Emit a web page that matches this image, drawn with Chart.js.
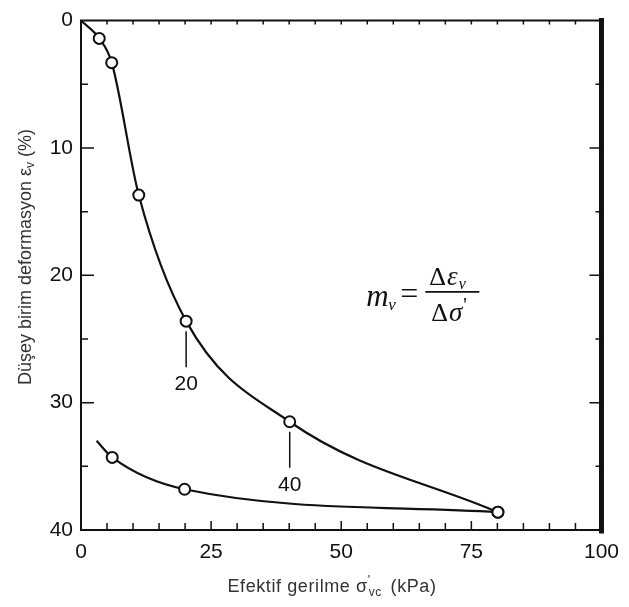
<!DOCTYPE html>
<html><head><meta charset="utf-8">
<script src="https://cdn.jsdelivr.net/npm/chart.js@4.4.1/dist/chart.umd.min.js"></script>
<style>html,body{margin:0;padding:0;background:#fff;} #wrap{width:629px;height:607px;position:relative;}</style>
</head><body><div id="wrap"><canvas id="c" width="629" height="607"></canvas></div>
<script>
// ---- data ----
const loadingStress = [0, 3.5, 5.9, 11.1, 20.2, 40.1, 80.1];
const loadingStrain = [0, 1.4, 3.3, 13.7, 23.6, 31.5, 38.6];
const loadingMarked = [0, 1, 1, 1, 1, 1, 1];
const unloadingStress = [3.0, 6.0, 19.9, 80.1];
const unloadingStrain = [33.0, 34.3, 36.8, 38.6];
const unloadingMarked = [0, 1, 1, 1];
const xTickValues = [0, 25, 50, 75, 100];
const yTickValues = [0, 10, 20, 30, 40];
const stressLabels = ['20', '40'];
const stressLabelIndex = [4, 5];

const INK = '#111';
const SANS = '"Liberation Sans", Arial, sans-serif';
const SERIF = '"Liberation Serif", "Times New Roman", serif';

function pts(xs, ys) { return xs.map((x, i) => ({x: x, y: ys[i]})); }

const decor = {
  id: 'decor',
  afterDraw(chart) {
    const ctx = chart.ctx, a = chart.chartArea;
    const xs = chart.scales.x, ys = chart.scales.y;
    ctx.save();
    ctx.strokeStyle = INK; ctx.fillStyle = INK;
    // frame
    ctx.lineCap = 'square';
    ctx.lineWidth = 2;
    ctx.beginPath();
    ctx.moveTo(a.left, a.bottom); ctx.lineTo(a.left, a.top); ctx.lineTo(a.right, a.top);
    ctx.moveTo(a.left, a.bottom); ctx.lineTo(a.right, a.bottom);
    ctx.stroke();
    ctx.lineWidth = 5;
    ctx.beginPath(); ctx.moveTo(a.right, a.top); ctx.lineTo(a.right, a.bottom + 1); ctx.stroke();
    // ticks
    ctx.lineWidth = 1.5; ctx.lineCap = 'butt';
    ctx.beginPath();
    for (let v = 5; v < 100; v += 5) {
      const px = xs.getPixelForValue(v);
      const major = v % 25 === 0;
      ctx.moveTo(px, a.bottom); ctx.lineTo(px, a.bottom - (major ? 9 : 7));
      ctx.moveTo(px, a.top); ctx.lineTo(px, a.top + 4);
    }
    for (let v = 5; v < 40; v += 5) {
      const py = ys.getPixelForValue(v);
      const major = v % 10 === 0;
      ctx.moveTo(a.left, py); ctx.lineTo(a.left + (major ? 13 : 7), py);
      ctx.moveTo(a.right, py); ctx.lineTo(a.right - (major ? 12 : 6), py);
    }
    ctx.stroke();

    // stress labels under points
    const meta = chart.getDatasetMeta(0);
    ctx.font = '21px ' + SANS; ctx.textAlign = 'center'; ctx.textBaseline = 'middle';
    stressLabelIndex.forEach((idx, k) => {
      const p = meta.data[idx];
      ctx.lineWidth = 1.5;
      ctx.beginPath(); ctx.moveTo(p.x, p.y + 10); ctx.lineTo(p.x, p.y + 46); ctx.stroke();
      ctx.fillText(stressLabels[k], p.x, p.y + 63);
    });

    // formula m_v = Δε_v / Δσ'
    const fx = xs.getPixelForValue(55.2), fy = ys.getPixelForValue(21.3);
    ctx.textAlign = 'left'; ctx.textBaseline = 'alphabetic';
    ctx.font = 'italic 31px ' + SERIF;
    ctx.fillText('m', fx - 2, fy + 14);
    ctx.font = 'italic 17px ' + SERIF;
    ctx.fillText('v', fx + 20, fy + 18);
    ctx.font = '32px ' + SERIF;
    ctx.fillText('=', fx + 32, fy + 12);
    const bx0 = fx + 57, bx1 = fx + 111;
    ctx.lineWidth = 1.6;
    ctx.beginPath(); ctx.moveTo(bx0, fy); ctx.lineTo(bx1, fy); ctx.stroke();
    // numerator
    let nx = bx0 + 4;
    ctx.font = '26px ' + SERIF; ctx.fillText('Δ', nx, fy - 7); nx += ctx.measureText('Δ').width + 1;
    ctx.font = 'italic 27px ' + SERIF; ctx.fillText('ε', nx, fy - 7); nx += ctx.measureText('ε').width;
    ctx.font = 'italic 16px ' + SERIF; ctx.fillText('v', nx + 1, fy - 3);
    // denominator
    let dx = bx0 + 6;
    ctx.font = '26px ' + SERIF; ctx.fillText('Δ', dx, fy + 29); dx += ctx.measureText('Δ').width + 1;
    ctx.font = 'italic 27px ' + SERIF; ctx.fillText('σ', dx, fy + 29); dx += ctx.measureText('σ').width;
    ctx.font = '20px ' + SERIF; ctx.fillText('\'', dx + 1, fy + 20);

    // y axis title
    ctx.fillStyle = '#333';
    const yParts = [['Düşey birim deformasyon ε', 18, 0], ['v', 12, 5], [' (%)', 18, 0]];
    let total = 0;
    yParts.forEach(p => { ctx.font = p[1] + 'px ' + SANS; total += ctx.measureText(p[0]).width; });
    ctx.save();
    ctx.translate(26, 257); ctx.rotate(-Math.PI / 2);
    let tx = -total / 2;
    ctx.textBaseline = 'middle';
    yParts.forEach(p => { ctx.font = p[1] + 'px ' + SANS; ctx.fillText(p[0], tx, p[2]); tx += ctx.measureText(p[0]).width; });
    ctx.restore();

    // x axis title
    ctx.textBaseline = 'alphabetic';
    ctx.letterSpacing = '0.6px';
    ctx.font = '18px ' + SANS;
    const t1 = 'Efektif gerilme σ', t2 = ' (kPa)';
    const w1 = ctx.measureText(t1).width, w2 = ctx.measureText(t2).width;
    ctx.font = '12px ' + SANS; const w3 = ctx.measureText('vc').width;
    const xt = 332 - (w1 + w3 + 4 + w2) / 2, yb = 592;
    ctx.font = '18px ' + SANS; ctx.fillText(t1, xt, yb);
    ctx.font = '13px ' + SANS; ctx.fillText('\'', xt + w1, yb - 8);
    ctx.font = '12px ' + SANS; ctx.fillText('vc', xt + w1 + 1, yb + 4);
    ctx.font = '18px ' + SANS; ctx.fillText(t2, xt + w1 + w3 + 4, yb);
    ctx.restore();
  }
};

new Chart(document.getElementById('c'), {
  type: 'scatter',
  data: {
    datasets: [
      {
        data: pts(loadingStress, loadingStrain),
        showLine: true, cubicInterpolationMode: 'monotone',
        borderColor: INK, borderWidth: 2.2,
        pointRadius: loadingMarked.map(m => m ? 5.5 : 0),
        pointBackgroundColor: '#fff', pointBorderColor: INK, pointBorderWidth: 2
      },
      {
        data: pts(unloadingStress, unloadingStrain),
        showLine: true, cubicInterpolationMode: 'monotone',
        borderColor: INK, borderWidth: 2.2,
        pointRadius: unloadingMarked.map(m => m ? 5.5 : 0),
        pointBackgroundColor: '#fff', pointBorderColor: INK, pointBorderWidth: 2
      }
    ]
  },
  options: {
    responsive: false, animation: false, devicePixelRatio: 1,
    layout: {padding: {top: 13, right: 19, left: 0, bottom: 0}},
    plugins: {legend: {display: false}, tooltip: {enabled: false}},
    scales: {
      x: {
        type: 'linear', min: 0, max: 100,
        grid: {display: false, drawTicks: false}, border: {display: false},
        afterBuildTicks: s => { s.ticks = xTickValues.map(v => ({value: v})); },
        afterFit: s => { s.height = 77; },
        ticks: {color: INK, font: {family: SANS, size: 21}, padding: 10, maxRotation: 0}
      },
      y: {
        type: 'linear', min: 0, max: 40, reverse: true,
        grid: {display: false, drawTicks: false}, border: {display: false},
        afterBuildTicks: s => { s.ticks = yTickValues.map(v => ({value: v})); },
        afterFit: s => { s.width = 81; },
        ticks: {color: INK, font: {family: SANS, size: 21}, padding: 8}
      }
    }
  },
  plugins: [decor]
});
</script>
</body></html>
